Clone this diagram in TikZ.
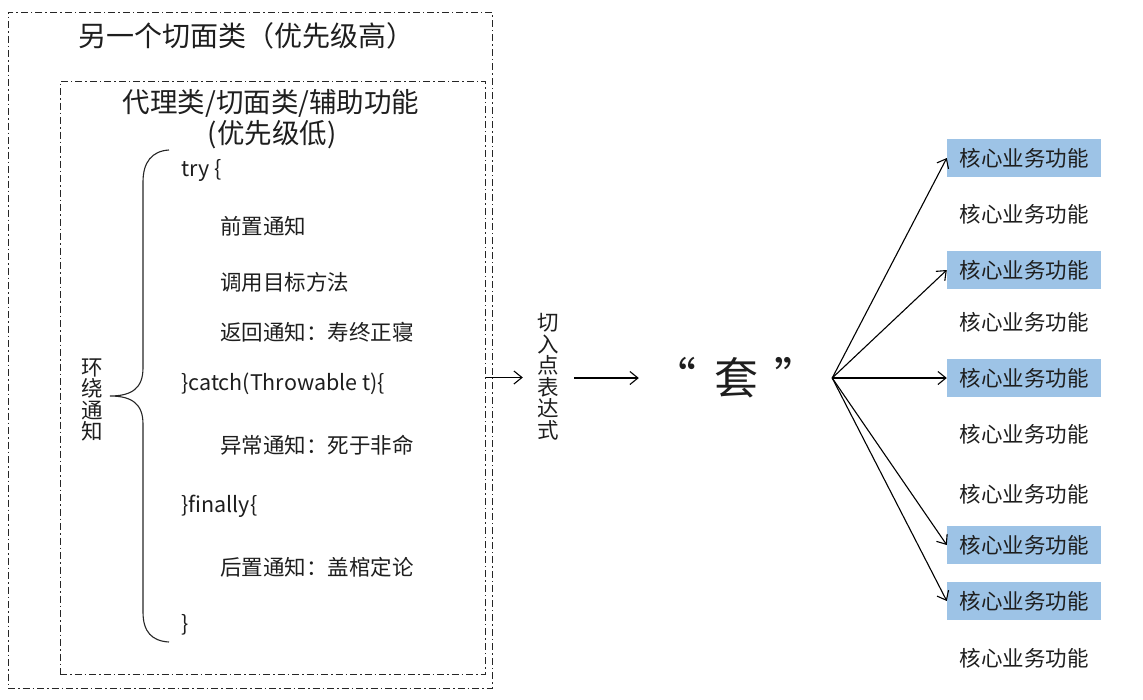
\documentclass[tikz,border=0pt]{standalone}
\usepackage{fontspec}
\setmainfont{Noto Sans CJK SC}
\usetikzlibrary{arrows.meta}
\definecolor{boxblue}{RGB}{157,195,230}
\definecolor{txt}{RGB}{30,30,30}
\begin{document}
\begin{tikzpicture}[x=1pt,y=-1pt,
  dashdot/.style={draw=black!85,line width=1pt,dash pattern=on 7pt off 3pt on 1.5pt off 3pt},
  arr/.style={line width=1.1pt,-{Straight Barb[length=8pt,width=13pt,line width=1.1pt]}},
  codetxt/.style={anchor=west,inner sep=0pt,text=txt,font=\fontsize{21.5}{24}\selectfont},
  biztxt/.style={inner sep=0pt,minimum width=154pt,minimum height=38pt,text=txt,font=\fontsize{21.5}{24}\selectfont},
  bizbox/.style={biztxt,fill=boxblue},
  vtxt/.style={inner sep=0pt,align=center,text=txt,font=\fontsize{21.5}{21.5}\selectfont}
]
\useasboundingbox (0,0) rectangle (1143,699);
% boxes
\node[dashdot,inner sep=0pt,minimum width=484pt,minimum height=676pt] (outer) at (250,350) {};
\node[dashdot,inner sep=0pt,minimum width=425pt,minimum height=593pt] (inner) at (272.5,377.5) {};
% titles
\node[inner sep=0pt,text=txt,font=\fontsize{28}{30}\selectfont] (t1) at (246,36) {另一个切面类（优先级高）};
\node[inner sep=0pt,text=txt,font=\fontsize{27.5}{30}\selectfont] (t2) at (271,103) {代理类/切面类/辅助功能};
\node[inner sep=0pt,text=txt,font=\fontsize{27.5}{30}\selectfont] (t3) at (272,135) {(优先级低)};
% brace
\draw[line width=1.1pt,black!85] (169,150) .. controls (152,151) and (143,162) .. (143,182)
  -- (143,368) .. controls (143,388) and (132,396) .. (110,396)
  .. controls (132,396) and (143,404) .. (143,424)
  -- (143,612) .. controls (143,632) and (152,641) .. (169,642);
\node[vtxt] (around) at (92,400) {环\\绕\\通\\知};
% code lines
\node[codetxt] (c1) at (181,170) {try \{};
\node[codetxt] (c2) at (220,226) {前置通知};
\node[codetxt] (c3) at (220,282) {调用目标方法};
\node[codetxt] (c4) at (220,332) {返回通知：寿终正寝};
\node[codetxt] (c5) at (181,384) {\}catch(Throwable t)\{};
\node[codetxt] (c6) at (220,445) {异常通知：死于非命};
\node[codetxt] (c7) at (181,506) {\}finally\{};
\node[codetxt] (c8) at (220,567) {后置通知：盖棺定论};
\node[codetxt] (c9) at (181,625) {\}};
% pointcut
\node[vtxt,minimum width=51pt] (cut) at (548.5,377) {切\\入\\点\\表\\达\\式};
% tao
\node[inner sep=0pt,minimum width=193pt,text=txt,font=\fontsize{44}{48}\selectfont] (tao) at (735.5,378) {“\hspace{18pt}套\hspace{16pt}”};
\draw[arr] (inner.east) -- (cut.west |- inner.east);
\draw[arr] (cut.east |- tao.west) -- (tao.west);
% business boxes
\node[bizbox] (b1) at (1024,158) {核心业务功能};
\node[biztxt] (p1) at (1024,214) {核心业务功能};
\node[bizbox] (b2) at (1024,270) {核心业务功能};
\node[biztxt] (p2) at (1024,322) {核心业务功能};
\node[bizbox] (b3) at (1024,378) {核心业务功能};
\node[biztxt] (p3) at (1024,434) {核心业务功能};
\node[biztxt] (p4) at (1024,494) {核心业务功能};
\node[bizbox] (b4) at (1024,545) {核心业务功能};
\node[bizbox] (b5) at (1024,601) {核心业务功能};
\node[biztxt] (p5) at (1024,658) {核心业务功能};
% fan
\foreach \b in {b1,b2,b3,b4,b5}
  \draw[arr] (tao.east) -- (\b.west);
\end{tikzpicture}
\end{document}
